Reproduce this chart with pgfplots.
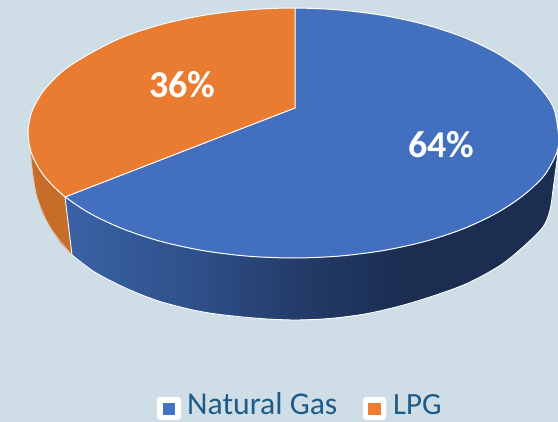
\documentclass[border=0pt]{standalone}
\usepackage{pgfplots}
\pgfplotsset{compat=1.18}
\usepackage{fontspec}
\setmainfont{Carlito}
\definecolor{bg}{HTML}{CFDDE6}
\definecolor{pieblue}{HTML}{4270BF}
\definecolor{pieorange}{HTML}{EA7C32}
\definecolor{sideorange}{HTML}{C76D2A}
\definecolor{legtext}{HTML}{1D5B88}
\definecolor{legblue}{HTML}{4472C4}
\definecolor{legorange}{HTML}{ED7D31}
\definecolor{sa}{HTML}{3A62A6}
\definecolor{sb}{HTML}{2E4F88}
\definecolor{sc}{HTML}{243C6A}
\definecolor{sd}{HTML}{1B2E52}
\pgfdeclarehorizontalshading{sideblue}{100bp}{color(0bp)=(sa); color(25bp)=(sa); color(38.7bp)=(sb); color(48.3bp)=(sc); color(59bp)=(sd); color(100bp)=(sd)}
\begin{document}
\begin{tikzpicture}
\begin{axis}[
  width=558bp, height=422bp, scale only axis,
  xmin=0, xmax=558, ymin=0, ymax=422, y dir=reverse,
  hide axis, clip=true,
  every axis plot/.append style={no markers},
]
% background
\addplot[fill=bg, draw=none] coordinates {(0,0)(558,0)(558,422)(0,422)} -- cycle;
% orange side
\addplot[fill=sideorange, draw=none] coordinates {(28,133)(30,148)(33,175)(37,197)(42,212)(50,227)(60,242)(72,255)(65,197)(100,150)} -- cycle;
% blue side
\addplot[shade, shading=sideblue, draw=none] coordinates {(65,197)(72,255)(82,263.5)(93,271)(104,277.5)(115,283)(126,288.5)(137,293)(160,301.5)(176,306)(193,310)(206,312.5)(220,314.5)(240,317)(260,318.5)(295,320)(330,318.5)(365,314)(383,310.3)(400,306)(417,301.4)(433,296)(450,290.2)(467,283.5)(484,275)(500,265.5)(512,256.5)(523,247)(534,237)(543,227)(547,219)(550,210)(552,200)(553,190)(555,175)(557,160)(558,148)(295,133)} -- cycle;
% side edges
\addplot[white, line width=0.9bp, smooth] coordinates {(72,255)(93,271)(115,283)(137,293)(160,301.5)(193,310)(220,314.5)(260,318.5)(295,320)(330,318.5)(365,314)(400,306)(433,296)(467,283.5)(500,265.5)(523,247)(543,227)(550,210)(553,190)(557,160)(558,148)};
\addplot[white!60!sideorange, line width=0.6bp, smooth] coordinates {(29,140)(30,148)(33,175)(37,197)(50,227)(72,255)};
\addplot[white, line width=0.9bp] coordinates {(65,197)(72,255)};
% top face: blue full disc
\addplot[fill=pieblue, draw=none, smooth cycle] coordinates {(558.5,135)(557,152)(544,175.8)(522.5,196)(496,213.4)(463.3,228.8)(425.5,241.3)(383.6,250.5)(339,256.1)(293,258)(247,256.1)(202.4,250.5)(160.5,241.3)(122.7,228.8)(90,213.4)(63.5,195.5)(44,175.8)(32,154.7)(28,133)(32,111.3)(44,90.2)(63.5,70.5)(90,53.5)(122.7,37.2)(160.5,24.7)(202.4,15.5)(247,9.9)(293,8)(339,9.9)(383.6,15.5)(425.5,24.7)(463.3,37.2)(496,52.6)(522.5,70.5)(542,90.2)(554,109)};
% orange slice: arc segment and triangle
\addplot[fill=pieorange, draw=none, smooth] coordinates {(65,197)(44,175.8)(32,154.7)(28,133)(32,111.3)(44,90.2)(63.5,70.5)(90,53.5)(122.7,37.2)(160.5,24.7)(202.4,15.5)(247,9.9)(295,8)} -- cycle;
\addplot[fill=pieorange, draw=pieorange, line width=0.6bp] coordinates {(65,197)(295,8)(295,108)} -- cycle;
% edges
\addplot[white, line width=1bp, smooth cycle] coordinates {(558.5,135)(557,152)(544,175.8)(522.5,196)(496,213.4)(463.3,228.8)(425.5,241.3)(383.6,250.5)(339,256.1)(293,258)(247,256.1)(202.4,250.5)(160.5,241.3)(122.7,228.8)(90,213.4)(63.5,195.5)(44,175.8)(32,154.7)(28,133)(32,111.3)(44,90.2)(63.5,70.5)(90,53.5)(122.7,37.2)(160.5,24.7)(202.4,15.5)(247,9.9)(293,8)(339,9.9)(383.6,15.5)(425.5,24.7)(463.3,37.2)(496,52.6)(522.5,70.5)(542,90.2)(554,109)};
\addplot[white, line width=1bp] coordinates {(295,8)(295,108)(65,197)};
% legend keys
\addplot[fill=white, draw=none, rounded corners=3bp] coordinates {(157,397)(181,397)(181,420)(157,420)} -- cycle;
\addplot[fill=legblue, draw=none] coordinates {(163,403)(175,403)(175,415)(163,415)} -- cycle;
\addplot[fill=white, draw=none, rounded corners=3bp] coordinates {(363,397)(386,397)(386,420)(363,420)} -- cycle;
\addplot[fill=legorange, draw=none] coordinates {(368,403)(381,403)(381,415)(368,415)} -- cycle;
% labels
\node[anchor=base, text=white, font=\fontsize{38}{42}\selectfont\bfseries, inner sep=0pt] at (axis cs:182,97) {36\%};
\node[anchor=base, text=white, font=\fontsize{38}{42}\selectfont\bfseries, inner sep=0pt] at (axis cs:441,157) {64\%};
\node[anchor=base west, text=legtext, font=\fontsize{31.8}{34}\selectfont, inner sep=0pt] at (axis cs:187,414) {Natural Gas};
\node[anchor=base west, text=legtext, font=\fontsize{31}{34}\selectfont, inner sep=0pt] at (axis cs:393,414) {LPG};
\end{axis}
\end{tikzpicture}
\end{document}
